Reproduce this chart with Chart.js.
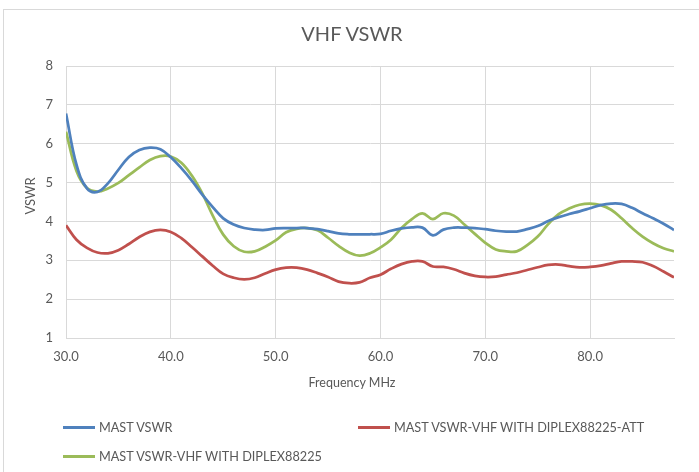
<!DOCTYPE html>
<html>
<head>
<meta charset="utf-8">
<script src="https://cdn.jsdelivr.net/npm/chart.js@4.4.1/dist/chart.umd.min.js"></script>
<style>
  html, body { margin: 0; padding: 0; background: #ffffff; }
  #wrap { position: relative; width: 699px; height: 472px; overflow: hidden; background: #fff; }
  #frame { position: absolute; left: 3px; top: 9px; width: 720px; height: 490px; border: 1px solid #d9d9d9; box-sizing: border-box; }
  #chart { position: absolute; left: 0; top: 0; }
  .t { position: absolute; font-family: Lato, "Open Sans", sans-serif; color: #595959; white-space: nowrap; }
  .lg { position: absolute; font-family: Lato, "Open Sans", sans-serif; font-size: 12.7px; color: #595959; white-space: nowrap; line-height: 16px; }
  .sw { position: absolute; height: 3px; width: 32px; }
</style>
</head>
<body>
<div id="wrap">
  <div id="frame"></div>
  <canvas id="chart" width="699" height="472"></canvas>
  <div class="t" style="left:252px; width:200px; text-align:center; top:21px; font-size:20px; line-height:24px;">VHF VSWR</div>
  <div class="t" style="left:252px; width:200px; text-align:center; top:375px; font-size:12.5px; line-height:16px;">Frequency MHz</div>
  <div class="t" style="left:0px; top:188px; width:60px; text-align:center; font-size:13px; line-height:16px; transform-origin:30px 8px; transform: rotate(-90deg);">VSWR</div>
  <div class="sw" style="left:63px; top:426px; background:#4F81BD;"></div>
  <div class="lg" style="left:99px; top:419px;">MAST VSWR</div>
  <div class="sw" style="left:358px; top:426px; background:#C0504D;"></div>
  <div class="lg" style="left:394px; top:419px;">MAST VSWR-VHF WITH DIPLEX88225-ATT</div>
  <div class="sw" style="left:63px; top:455px; background:#9BBB59;"></div>
  <div class="lg" style="left:99px; top:448px;">MAST VSWR-VHF WITH DIPLEX88225</div>
</div>
<script>
const freqMHz = [30,31,32,33,34,35,36,37,38,39,40,41,42,43,44,45,46,47,48,49,50,51,52,53,54,55,56,57,58,59,60,61,62,63,64,65,66,67,68,69,70,71,72,73,74,75,76,77,78,79,80,81,82,83,84,85,86,87,88];

const mastVswr = [6.78,5.46,4.85,4.76,4.98,5.33,5.66,5.84,5.90,5.86,5.65,5.37,5.05,4.69,4.37,4.08,3.92,3.83,3.79,3.78,3.82,3.83,3.83,3.83,3.80,3.75,3.69,3.67,3.67,3.67,3.68,3.76,3.82,3.85,3.84,3.64,3.79,3.84,3.84,3.83,3.80,3.76,3.74,3.74,3.80,3.88,4.01,4.11,4.19,4.26,4.34,4.42,4.46,4.45,4.35,4.21,4.08,3.94,3.78];

const mastVswrDiplexAtt = [3.90,3.53,3.32,3.20,3.18,3.26,3.42,3.60,3.73,3.78,3.73,3.57,3.34,3.10,2.86,2.65,2.55,2.51,2.55,2.66,2.76,2.81,2.81,2.76,2.67,2.57,2.45,2.41,2.43,2.55,2.63,2.78,2.90,2.97,2.97,2.84,2.83,2.77,2.67,2.60,2.57,2.58,2.63,2.68,2.75,2.82,2.88,2.89,2.85,2.82,2.83,2.86,2.92,2.97,2.97,2.95,2.85,2.71,2.56];

const mastVswrDiplex = [6.31,5.30,4.86,4.77,4.85,4.99,5.19,5.39,5.58,5.68,5.67,5.51,5.18,4.72,4.15,3.66,3.36,3.22,3.23,3.35,3.51,3.72,3.81,3.83,3.77,3.58,3.37,3.20,3.12,3.18,3.33,3.53,3.83,4.06,4.21,4.06,4.21,4.15,3.92,3.68,3.45,3.28,3.23,3.23,3.39,3.61,3.93,4.19,4.33,4.43,4.46,4.42,4.30,4.08,3.83,3.61,3.44,3.31,3.23];

const seriesNames = ["MAST VSWR", "MAST VSWR-VHF WITH DIPLEX88225-ATT", "MAST VSWR-VHF WITH DIPLEX88225"];
const seriesColors = ["#4F81BD", "#C0504D", "#9BBB59"];
const xTicks = [30, 40, 50, 60, 70, 80];
const yTicks = [1, 2, 3, 4, 5, 6, 7, 8];

function pts(vals) { return freqMHz.map((f, i) => ({ x: f, y: vals[i] })); }

const FONT = 'Lato, "Open Sans", sans-serif';
const TXT = '#595959';
const GRID = '#d9d9d9';

new Chart(document.getElementById('chart'), {
  type: 'line',
  data: {
    datasets: [mastVswr, mastVswrDiplexAtt, mastVswrDiplex].map((v, i) => ({
      label: seriesNames[i],
      data: pts(v),
      borderColor: seriesColors[i],
      backgroundColor: seriesColors[i],
      borderWidth: 2.75,
      pointRadius: 0,
      tension: 0.4,
      fill: false
    }))
  },
  options: {
    responsive: false,
    animation: false,
    layout: { padding: { left: 4, right: 25, top: 66, bottom: 74 } },
    plugins: {
      legend: { display: false },
      tooltip: { enabled: false },
      title: { display: false }
    },
    scales: {
      x: {
        type: 'linear',
        min: 30,
        max: 88,
        afterBuildTicks: (s) => { s.ticks = xTicks.map(v => ({ value: v })); },
        afterFit: (s) => { s.height = 60; },
        ticks: {
          color: TXT,
          font: { family: FONT, size: 13 },
          padding: 11,
          maxRotation: 0,
          autoSkip: false,
          callback: (v) => Number(v).toFixed(1)
        },
        grid: { color: GRID, lineWidth: 1, drawTicks: false },
        border: { color: GRID }
      },
      y: {
        min: 1,
        max: 8,
        afterBuildTicks: (s) => { s.ticks = yTicks.map(v => ({ value: v })); },
        afterFit: (s) => { s.width = 62; },
        ticks: {
          color: TXT,
          font: { family: FONT, size: 13 },
          padding: 13
        },
        grid: { color: GRID, lineWidth: 1, drawTicks: false },
        border: { color: GRID }
      }
    }
  }
});
</script>
</body>
</html>
